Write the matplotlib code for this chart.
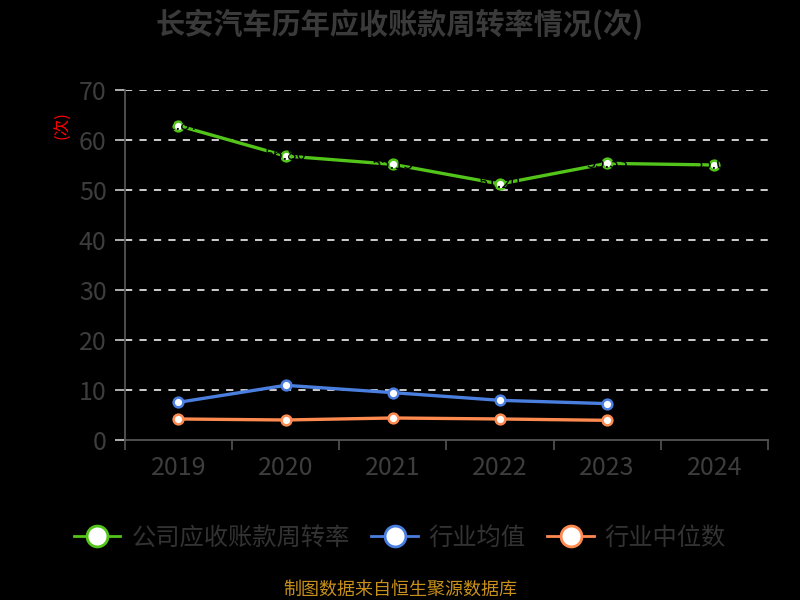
import matplotlib
matplotlib.use("Agg")
import matplotlib.pyplot as plt
from matplotlib.lines import Line2D
import numpy as np

plt.rcParams['font.family'] = ['Noto Sans CJK SC', 'DejaVu Sans']

years = ['2019', '2020', '2021', '2022', '2023', '2024']
company = [62.87, 56.80, 55.13, 51.20, 55.33, 55.00]
industry_avg = [7.53, 10.93, 9.47, 7.93, 7.27]
industry_median = [4.20, 4.00, 4.40, 4.20, 3.93]
series_names = ['公司应收账款周转率', '行业均值', '行业中位数']
title = '长安汽车历年应收账款周转率情况(次)'
footer = '制图数据来自恒生聚源数据库'
y_ticks = [0, 10, 20, 30, 40, 50, 60, 70]

c_green = '#52c41a'
c_blue = '#4a7fe0'
c_orange = '#ff8a50'
txt = '#3d3d3d'

fig = plt.figure(figsize=(8, 6), dpi=100, facecolor='black')
ax = fig.add_axes([0.156, 0.2667, 0.804, 0.5833], facecolor='black')

x_all = np.arange(len(years))
x5 = np.arange(len(industry_avg))

mk = dict(marker='o', markersize=7, markerfacecolor='white', markeredgewidth=1.8)
ax.plot(x5, industry_median, color=c_orange, lw=2.4, markeredgecolor=c_orange, zorder=3, **mk)
ax.plot(x5, industry_avg, color=c_blue, lw=2.4, markeredgecolor=c_blue, zorder=3, **mk)
ax.plot(x_all, company, color=c_green, lw=2.4, markeredgecolor=c_green, zorder=4, **mk)

for xi, v in zip(x_all, company):
    ax.annotate(f'{v:.2f}', (xi, v), xytext=(0, 0), textcoords='offset points',
                ha='center', va='center', fontsize=12, color='black', zorder=6)

ax.set_xlim(-0.5, len(years) - 0.5)
ax.set_ylim(0, 70)
ax.set_yticks(y_ticks)
ax.set_yticklabels([str(t) for t in y_ticks], fontsize=18, color=txt, fontweight='light')
ax.set_xticks(x_all)
ax.set_xticklabels(years, fontsize=18, color=txt, fontweight='light')
ax.set_xticks(np.arange(-0.5, len(years), 1.0), minor=True)
ax.tick_params(axis='x', which='major', length=0, pad=11)
ax.tick_params(axis='x', which='minor', length=7, color='#555555', width=1.2)
ax.tick_params(axis='y', which='major', length=7, color='#cccccc', width=1.2, pad=6)

for y in y_ticks[1:]:
    ax.axhline(y, color='#dddddd', lw=1.3, ls=(0, (4, 4)), zorder=1)

for s in ['top', 'right']:
    ax.spines[s].set_visible(False)
for s in ['left', 'bottom']:
    ax.spines[s].set_color('#555555')
    ax.spines[s].set_linewidth(1.3)

fig.text(0.079, 0.792, '(次)', rotation=90, color='red', fontsize=12, ha='center', va='center')
fig.text(0.5, 0.96, title, fontsize=21, fontweight='bold', color='#3a3a3a', ha='center', va='center')

handles = [
    Line2D([0], [0], color=c, lw=2, marker='o', markersize=15, markerfacecolor='white',
           markeredgecolor=c, markeredgewidth=2)
    for c in (c_green, c_blue, c_orange)
]
leg = fig.legend(handles, series_names, loc='center', bbox_to_anchor=(0.5, 0.104), ncol=3,
                 frameon=False, fontsize=17.5, handlelength=1.9, handletextpad=0.45, columnspacing=0.9)
for t in leg.get_texts():
    t.set_color('#333333')
    t.set_fontweight('light')

fig.text(0.5, 0.017, footer, fontsize=13, color='#c8901a', ha='center', va='center')

fig.savefig('out.png', dpi=100, facecolor='black')
